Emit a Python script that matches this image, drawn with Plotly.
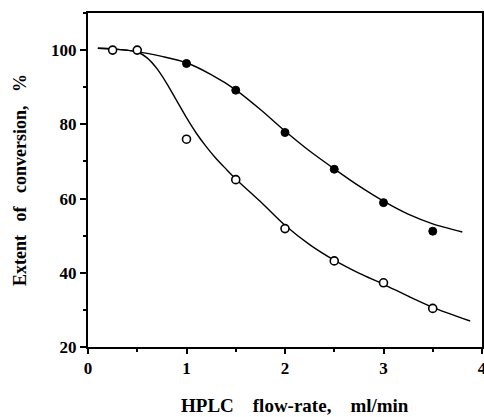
import plotly.graph_objects as go

# Measured points
open_x = [0.25, 0.5, 1.0, 1.5, 2.0, 2.5, 3.0, 3.5]
open_y = [100.0, 100.0, 76.0, 65.1, 51.9, 43.2, 37.3, 30.4]
filled_x = [1.0, 1.5, 2.0, 2.5, 3.0, 3.5]
filled_y = [96.4, 89.2, 77.8, 67.9, 58.9, 51.2]

# Fitted curves
open_curve_x = [0.1, 0.3, 0.5, 0.6, 0.7, 0.8, 0.9, 1.0, 1.1, 1.2, 1.3, 1.4, 1.5, 1.75, 2.0, 2.25, 2.5, 2.75, 3.0, 3.25, 3.5, 3.88]
open_curve_y = [100.5, 100.2, 99.5, 97.9, 95.0, 91.0, 86.4, 81.8, 77.6, 74.0, 70.8, 68.0, 65.3, 59.2, 52.8, 47.6, 43.4, 39.9, 36.9, 33.7, 30.7, 27.0]
filled_curve_x = [0.1, 0.3, 0.5, 0.75, 1.0, 1.25, 1.5, 1.75, 2.0, 2.25, 2.5, 2.75, 3.0, 3.25, 3.5, 3.8]
filled_curve_y = [100.5, 100.2, 99.6, 98.3, 96.6, 93.4, 89.3, 84.0, 78.2, 72.8, 68.0, 63.4, 59.3, 55.8, 53.2, 51.0]

x_ticks = [0, 1, 2, 3, 4]
y_ticks = [20, 40, 60, 80, 100]

FONT = "Liberation Serif"
nb = "\u00a0"
x_title = "HPLC" + nb * 4 + "flow-rate," + nb * 4 + "ml/min"
y_title = "Extent" + nb * 3 + "of" + nb * 3 + "conversion," + nb * 3 + "%"

fig = go.Figure()
line_style = dict(color="black", width=1.4, shape="spline", smoothing=0.8)
fig.add_trace(go.Scatter(x=filled_curve_x, y=filled_curve_y, mode="lines", line=line_style, hoverinfo="skip"))
fig.add_trace(go.Scatter(x=open_curve_x, y=open_curve_y, mode="lines", line=line_style, hoverinfo="skip"))
fig.add_trace(go.Scatter(x=filled_x, y=filled_y, mode="markers",
                         marker=dict(symbol="circle", size=8, color="black", line=dict(color="black", width=1))))
fig.add_trace(go.Scatter(x=open_x, y=open_y, mode="markers",
                         marker=dict(symbol="circle", size=8, color="white", line=dict(color="black", width=1.6))))

fig.add_annotation(text=x_title, xref="x", yref="paper", x=2.1, y=-0.175,
                   xanchor="center", yanchor="middle", showarrow=False,
                   font=dict(family=FONT, size=19, weight="bold", color="black"))

fig.update_layout(
    width=484, height=417,
    margin=dict(l=88, r=2, t=13, b=70),
    paper_bgcolor="white", plot_bgcolor="white",
    showlegend=False,
    font=dict(family=FONT, size=17, color="black", weight="bold"),
    xaxis=dict(
        range=[0, 4], tickvals=x_ticks, ticktext=[str(v) for v in x_ticks],
        showgrid=False, zeroline=False,
        showline=True, linewidth=2, linecolor="black", mirror=True,
        ticks="outside", ticklen=5, tickwidth=1.5, tickcolor="black",
        minor=dict(dtick=0.5, ticks="outside", ticklen=3, tickwidth=1.5, tickcolor="black"),
        tickfont=dict(family=FONT, size=17, weight="bold"),
        ticklabeloverflow="allow",
        automargin=False,
    ),
    yaxis=dict(
        range=[20, 110], tickvals=y_ticks, ticktext=[str(v) for v in y_ticks],
        showgrid=False, zeroline=False,
        showline=True, linewidth=2, linecolor="black", mirror=True,
        ticks="outside", ticklen=6, tickwidth=1.5, tickcolor="black",
        minor=dict(dtick=10, ticks="outside", ticklen=3, tickwidth=1.5, tickcolor="black"),
        tickfont=dict(family=FONT, size=17, weight="bold"),
        title=dict(text=y_title, font=dict(family=FONT, size=18, weight="bold"), standoff=20),
        automargin=False,
    ),
)

fig.write_html("out.html", config={"displayModeBar": False},
               post_script="document.body.style.margin='0';document.body.style.overflow='hidden';")
